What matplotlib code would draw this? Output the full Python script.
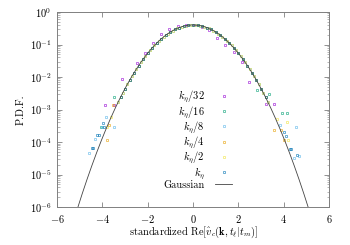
import numpy as np
import matplotlib
matplotlib.use("Agg")
import matplotlib.pyplot as plt
from matplotlib.ticker import LogLocator, NullFormatter, MultipleLocator

plt.rcParams['font.family'] = 'serif'
plt.rcParams['font.serif'] = ['cmr10']
plt.rcParams['mathtext.fontset'] = 'cm'
plt.rcParams['axes.formatter.use_mathtext'] = True
plt.rcParams['font.size'] = 7.5

# core of the distribution, two interleaved bin grids
core_even_x = [-3.2, -3.0, -2.8, -2.6, -2.4, -2.2, -2.0, -1.8, -1.6, -1.4, -1.2, -1.0, -0.8, -0.6, -0.4, -0.2,
               0.0, 0.2, 0.4, 0.6, 0.8, 1.0, 1.2, 1.4, 1.6, 1.8, 2.0, 2.2, 2.4, 2.6, 2.8, 3.0, 3.2]
core_even_y = [0.0024, 0.0044, 0.0079, 0.0136, 0.022, 0.035, 0.054, 0.079, 0.111, 0.150, 0.194, 0.242, 0.290,
               0.333, 0.368, 0.391, 0.399, 0.391, 0.368, 0.333, 0.290, 0.242, 0.194, 0.150, 0.111, 0.079,
               0.054, 0.035, 0.022, 0.0136, 0.0079, 0.0044, 0.0024]
core_odd_x = [-3.3, -3.1, -2.9, -2.7, -2.5, -2.3, -2.1, -1.9, -1.7, -1.5, -1.3, -1.1, -0.9, -0.7, -0.5, -0.3, -0.1,
              0.1, 0.3, 0.5, 0.7, 0.9, 1.1, 1.3, 1.5, 1.7, 1.9, 2.1, 2.3, 2.5, 2.7, 2.9, 3.1, 3.3]
core_odd_y = [0.0017, 0.0033, 0.0060, 0.0104, 0.0175, 0.028, 0.044, 0.066, 0.094, 0.130, 0.171, 0.218, 0.266,
              0.312, 0.352, 0.381, 0.397, 0.397, 0.381, 0.352, 0.312, 0.266, 0.218, 0.171, 0.130, 0.094,
              0.066, 0.044, 0.028, 0.0175, 0.0104, 0.0060, 0.0033, 0.0017]

# k_eta/32 (coarse bins)
x_k32 = [-3.88, -3.48, -3.15, -2.46, -2.1, -1.75, -1.4, -1.04, -0.65, -0.3, 0.05, 0.38, 0.72, 1.07, 1.42,
         1.82, 2.15, 2.49, 3.2, 3.57]
y_k32 = [1.4e-3, 1.4e-3, 8.5e-3, 0.0275, 0.055, 0.109, 0.21, 0.31, 0.38, 0.41, 0.41, 0.35, 0.27, 0.155,
         0.10, 0.058, 0.028, 7.0e-3, 1.45e-3, 1.45e-3]
# tails of the other scales
tail_k16_x = [-4.04, -3.47, 2.84, 3.37, 3.94, 4.13]
tail_k16_y = [3.0e-4, 2.4e-3, 3.9e-3, 3.1e-3, 8.0e-4, 8.0e-4]
tail_k8_x = [-4.58, -4.31, -4.0, -3.85, -3.47, 3.84, 4.47, 4.53, 4.68]
tail_k8_y = [4.5e-5, 1.2e-4, 2.8e-4, 5.7e-4, 2.8e-4, 3.4e-4, 3.3e-5, 2.8e-4, 3.8e-5]
tail_k4_x = [-3.78, -3.69, -3.52, 3.59, 3.88, 4.01]
tail_k4_y = [1.15e-4, 3.4e-4, 1.4e-3, 2.3e-4, 2.3e-4, 1.15e-4]
tail_k2_x = [-3.78, -3.6, 3.7, 4.13, 4.2]
tail_k2_y = [2.8e-4, 6.0e-4, 5.0e-4, 4.0e-4, 1.15e-4]
tail_k1_x = [-4.47, -4.41, -4.22, -4.15, -3.93, -3.96, 4.03, 4.1, 4.28, 4.32, 4.6]
tail_k1_y = [6.6e-5, 6.6e-5, 1.7e-4, 1.7e-4, 2.8e-4, 3.9e-4, 2.1e-4, 1.5e-4, 6.2e-5, 6.2e-5, 4.0e-5]

labels = [r'$k_\eta/32$', r'$k_\eta/16$', r'$k_\eta/8$', r'$k_\eta/4$', r'$k_\eta/2$', r'$k_\eta$']
colors = ['#9400d3', '#009e73', '#56b4e9', '#e69f00', '#f0e442', '#0072b2']

series = [
    (x_k32, y_k32),
    (core_even_x + tail_k16_x, core_even_y + tail_k16_y),
    (core_odd_x + tail_k8_x, core_odd_y + tail_k8_y),
    (core_even_x + tail_k4_x, core_even_y + tail_k4_y),
    (core_odd_x + tail_k2_x, core_odd_y + tail_k2_y),
    (core_even_x + tail_k1_x, core_even_y + tail_k1_y),
]

fig = plt.figure(figsize=(3.5, 2.45), dpi=100)
ax = fig.add_axes([0.163, 0.155, 0.777, 0.796])

for (xs, ys), lab, c in zip(series, labels, colors):
    ax.plot(xs, ys, 's', ms=2.1, mfc='none', mec=c, mew=0.5, alpha=0.8, label=lab)

xg = np.linspace(-6, 6, 400)
ax.plot(xg, np.exp(-xg ** 2 / 2) / np.sqrt(2 * np.pi), color='#444444', lw=0.6, label='Gaussian')

ax.set_yscale('log')
ax.set_xlim(-6, 6)
ax.set_ylim(1e-6, 1)
ax.xaxis.set_major_locator(MultipleLocator(2))
ax.yaxis.set_major_locator(LogLocator(base=10, numticks=10))
ax.yaxis.set_minor_locator(LogLocator(base=10, subs=np.arange(2, 10), numticks=10))
ax.yaxis.set_minor_formatter(NullFormatter())
ax.tick_params(which='both', direction='in', top=True, right=True, color='#808080', pad=4)
ax.tick_params(which='major', length=3.5, width=0.6)
ax.tick_params(which='minor', length=1.8, width=0.4)
for s in ax.spines.values():
    s.set_color('#808080')
    s.set_linewidth(0.7)

ax.set_xlabel(r'standardized Re$[\hat{v}_c(\mathbf{k},t_\ell|t_m)]$', labelpad=0)
ax.set_ylabel('P.D.F.', labelpad=3)

ax.legend(loc='upper right', bbox_to_anchor=(0.678, 0.66), bbox_transform=fig.transFigure,
          frameon=False, markerfirst=False, handlelength=1.6, handletextpad=1.0,
          labelspacing=-0.15, borderpad=0, fontsize=7.5)

fig.savefig('out.png', dpi=100)
